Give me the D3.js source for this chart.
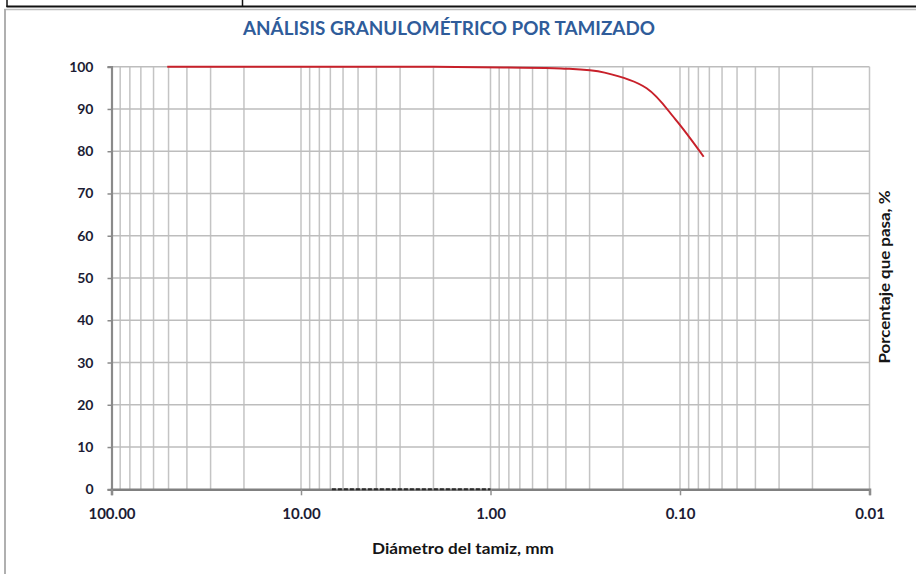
<!DOCTYPE html>
<html>
<head>
<meta charset="utf-8">
<script src="https://cdn.jsdelivr.net/npm/d3@7"></script>
<style>
  html, body { margin: 0; padding: 0; background: #fff; }
  svg { display: block; }
</style>
</head>
<body>
<svg id="chart" width="916" height="574"></svg>
<script>
// Sieve sizes (mm) and cumulative percent passing
const sieveSizes = [50.8, 38.1, 25.4, 19.05, 12.7, 9.525, 4.75, 2.0, 0.85, 0.425, 0.25, 0.15, 0.106, 0.075];
const percentPassing = [100, 100, 100, 100, 100, 100, 100, 100, 99.8, 99.6, 98.6, 94.9, 87.6, 78.7];

// Secondary dashed reference series lying on the 0 % line
const refSizes = [6.87, 1.0];
const refValues = [0, 0];

// Axis ticks
const xTickValues = [100, 10, 1, 0.1, 0.01];
const xTickLabels = ["100.00", "10.00", "1.00", "0.10", "0.01"];
const yTickValues = [0, 10, 20, 30, 40, 50, 60, 70, 80, 90, 100];

const title = "ANÁLISIS GRANULOMÉTRICO POR TAMIZADO";
const xTitle = "Diámetro del tamiz, mm";
const yTitle = "Porcentaje que pasa, %";

const svg = d3.select("#chart");
const W = 916, H = 574;
const plot = { left: 111.5, right: 869.5, top: 66.7, bottom: 489.3 };

const x = d3.scaleLog().domain([100, 0.01]).range([plot.left, plot.right]);
const y = d3.scaleLinear().domain([0, 100]).range([plot.bottom, plot.top]);

const labelFont = "Lato, 'Open Sans', sans-serif";

// Header table fragment and chart frame
svg.append("line").attr("x1", 6.5).attr("x2", W).attr("y1", 6.5).attr("y2", 6.5)
  .attr("stroke", "#111").attr("stroke-width", 2);
svg.append("line").attr("x1", 7).attr("x2", 7).attr("y1", 0).attr("y2", 7)
  .attr("stroke", "#111").attr("stroke-width", 1.5);
svg.append("line").attr("x1", 242.5).attr("x2", 242.5).attr("y1", 0).attr("y2", 7)
  .attr("stroke", "#111").attr("stroke-width", 1.5);
svg.append("line").attr("x1", 4).attr("x2", W).attr("y1", 9.5).attr("y2", 9.5)
  .attr("stroke", "#bdbdbd").attr("stroke-width", 1.5);
svg.append("line").attr("x1", 5).attr("x2", 5).attr("y1", 9).attr("y2", H)
  .attr("stroke", "#b0b0b0").attr("stroke-width", 2);

// Title
svg.append("text")
  .attr("x", 449).attr("y", 35)
  .attr("text-anchor", "middle")
  .attr("font-family", labelFont)
  .attr("font-weight", "bold")
  .attr("font-size", 18)
  .attr("textLength", 412)
  .attr("lengthAdjust", "spacingAndGlyphs")
  .attr("fill", "#2f5c9a")
  .text(title);

// Vertical log grid: every 1..9 multiple of each decade
const gridX = [];
[0.01, 0.1, 1, 10].forEach(dec => {
  for (let m = 1; m <= 9; m++) gridX.push(+(dec * m).toPrecision(3));
});
const grid = svg.append("g");
grid.selectAll("line.vx").data(gridX).join("line")
  .attr("class", "vx")
  .attr("x1", d => x(d)).attr("x2", d => x(d))
  .attr("y1", plot.top).attr("y2", plot.bottom)
  .attr("stroke", "#c4c4c4").attr("stroke-width", 1.5);

// Horizontal grid
grid.selectAll("line.hy").data(yTickValues.filter(v => v > 0)).join("line")
  .attr("class", "hy")
  .attr("x1", plot.left).attr("x2", plot.right)
  .attr("y1", d => y(d)).attr("y2", d => y(d))
  .attr("stroke", "#bdbdbd").attr("stroke-width", 1.5);

// Y axis (left)
const yAxis = d3.axisLeft(y).tickValues(yTickValues).tickSize(4).tickPadding(14).tickFormat(d3.format("d"));
const gy = svg.append("g").attr("transform", `translate(${plot.left},0)`).call(yAxis);
gy.select(".domain").attr("stroke", "#8a8a8a").attr("stroke-width", 2.2);
gy.selectAll(".tick line").attr("stroke", "#8a8a8a").attr("stroke-width", 1.5);
gy.selectAll(".tick text")
  .attr("font-family", labelFont).attr("font-weight", "bold").attr("font-size", 14)
  .attr("fill", "#1c1c34");

// X axis (bottom)
const xAxis = d3.axisBottom(x).tickValues(xTickValues).tickSize(6).tickPadding(13)
  .tickFormat((d, i) => xTickLabels[i]);
const gx = svg.append("g").attr("transform", `translate(0,${plot.bottom})`).call(xAxis);
gx.select(".domain").attr("stroke", "#808080").attr("stroke-width", 2.5);
gx.selectAll(".tick line").attr("stroke", "#909090").attr("stroke-width", 1.5);
gx.selectAll(".tick text")
  .attr("font-family", labelFont).attr("font-weight", "bold").attr("font-size", 15)
  .attr("fill", "#1c1c34");

// Axis titles
svg.append("text")
  .attr("x", 463).attr("y", 554)
  .attr("text-anchor", "middle")
  .attr("font-family", labelFont).attr("font-weight", "bold").attr("font-size", 15.5)
  .attr("textLength", 182)
  .attr("lengthAdjust", "spacingAndGlyphs")
  .attr("fill", "#151515")
  .text(xTitle);

svg.append("text")
  .attr("transform", "translate(890,277) rotate(-90)")
  .attr("text-anchor", "middle")
  .attr("font-family", labelFont).attr("font-weight", "bold").attr("font-size", 15.5)
  .attr("textLength", 173)
  .attr("lengthAdjust", "spacingAndGlyphs")
  .attr("fill", "#151515")
  .text(yTitle);

// Dashed reference series
const refLine = d3.line().x(d => x(d[0])).y(d => y(d[1]));
svg.append("path")
  .datum(refSizes.map((s, i) => [s, refValues[i]]))
  .attr("d", refLine)
  .attr("fill", "none")
  .attr("stroke", "#2a2a2a").attr("stroke-width", 2)
  .attr("stroke-dasharray", "4,2");

// Grading curve
const curveLine = d3.line().x(d => x(d[0])).y(d => y(d[1])).curve(d3.curveCatmullRom.alpha(0.5));
svg.append("path")
  .datum(sieveSizes.map((s, i) => [s, percentPassing[i]]))
  .attr("d", curveLine)
  .attr("fill", "none")
  .attr("stroke", "#c8202a").attr("stroke-width", 2);
</script>
</body>
</html>
